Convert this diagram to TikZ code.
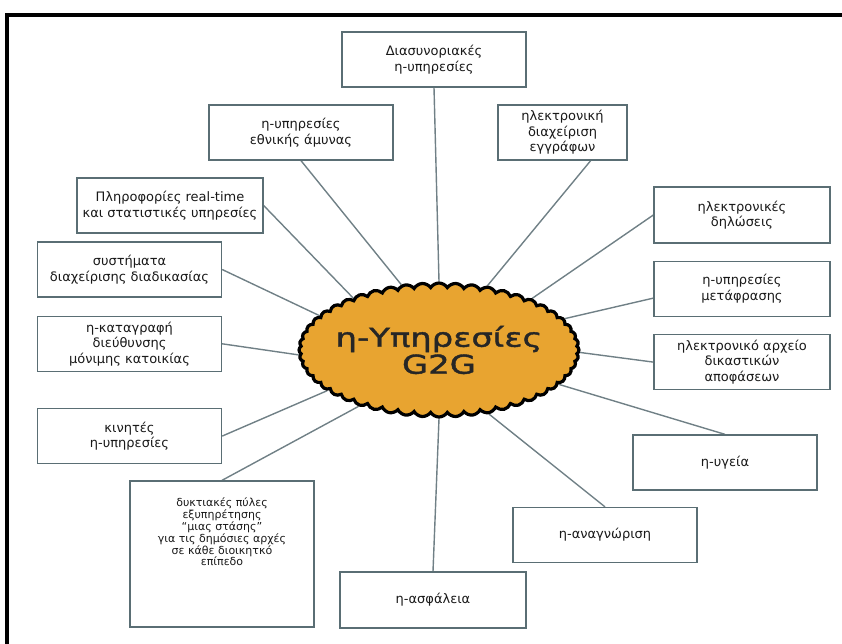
\documentclass[tikz,border=0pt]{standalone}
\usepackage{fontspec}
\setmainfont{DejaVu Sans}
\newfontfamily\hubfont[FakeStretch=1.3,FakeBold=1.6]{DejaVu Sans}
\usepackage{tikz}
\usetikzlibrary{shapes,positioning,backgrounds,calc}

\definecolor{hubfill}{RGB}{232,164,48}
\definecolor{boxline}{RGB}{90,110,116}
\definecolor{spoke}{RGB}{112,128,134}

\newlength\Boxwd
\setlength\Boxwd{176pt}
\newcommand\Boxtext[2]{%
  \parbox[c][#1][t]{\Boxwd}{\centering#2}}

\tikzset{service/.style={
    draw=boxline,
    rectangle,
    line width=1.3pt,
    fill=white,
    minimum width=184pt,
    minimum height=55pt,
    inner sep=2pt,
    align=center,
    % font=\ttfamily, % too narrow
    font=\fontsize{13}{15.5}\selectfont,
    text=black!90,
  },
  spokeline/.style={draw=spoke, line width=1.4pt}
}

\begin{document}
\begin{tikzpicture}[x=1pt,y=-1pt]
        \useasboundingbox (0,0) rectangle (842,644);

        % Frame
        \draw [line width=4pt] (7,644) -- (7,15) -- (842,15);

        % Hub
        \node (hub) [cloud, cloud puffs=52, cloud puff arc=115, cloud ignores aspect,
          draw=black, line width=3.2pt, fill=hubfill, inner xsep=-5pt, inner ysep=0pt,
          minimum width=262pt, minimum height=134pt,
          font=\hubfont\fontsize{26}{27}\selectfont, text=black!85, align=center] at (439,350) {η-Υπηρεσίες\\G2G};

        % Services
        \node (crossborder) [service] at (434,59.5) {Διασυνοριακές\\η-υπηρεσίες};
        \node (defence) [service] at (301,132.5) {η-υπηρεσίες\\εθνικής άμυνας};
        \node (documents) [service, minimum width=129pt] at (562.5,132.5) {ηλεκτρονική\\διαχείριση\\εγγράφων};
        \node (realtime) [service, minimum width=186pt] at (170,205.5) {Πληροφορίες real-time\\και στατιστικές υπηρεσίες};
        \node (process) [service] at (129.5,269.5) {συστήματα\\διαχείρισης διαδικασίας};
        \node (address) [service, below=18pt of process] {η-καταγραφή\\διεύθυνσης\\μόνιμης κατοικίας};
        \node (mobile) [service, below=36pt of address] {κινητές\\η-υπηρεσίες};
        \node (portals) [service, minimum height=146pt, font=\fontsize{11}{11.8}\selectfont] at (222,554) {
          \Boxtext{136pt}{\vspace*{12pt}δυκτιακές πύλες\\εξυπηρέτησης\\``μιας στάσης''\\για τις δημόσιες αρχές\\σε κάθε διοικητκό\\επίπεδο}};
        \node (security) [service, minimum width=186pt, minimum height=56pt] at (433,600) {η-ασφάλεια};
        \node (identity) [service] at (605,535) {η-αναγνώριση};
        \node (health) [service] at (725,462.5) {η-υγεία};
        \node (declarations) [service, minimum width=176pt, minimum height=56pt] at (742,215) {ηλεκτρονικές\\δηλώσεις};
        \node (translation) [service, minimum width=176pt, below=17pt of declarations] {η-υπηρεσίες\\μετάφρασης};
        \node (rulings) [service, minimum width=176pt, below=17pt of translation] {ηλεκτρονικό αρχείο\\δικαστικών\\αποφάσεων};

        % Spokes under the cloud
        \begin{pgfonlayer}{background}
          \draw [spokeline] (crossborder.south) -- (hub.90);
          \draw [spokeline] (defence.south) -- (hub.120);
          \draw [spokeline] (documents.-45) -- (hub.53);
          \draw [spokeline] (realtime.east) -- (hub.149);
          \draw [spokeline] (process.east) -- (hub.164);
          \draw [spokeline] (address.east) -- (hub.182);
          \draw [spokeline] (mobile.east) -- (hub.200);
          \draw [spokeline] (portals.north) -- (hub.215);
          \draw [spokeline] (security.north) -- (hub.270);
          \draw [spokeline] (identity.north) -- (hub.308);
          \draw [spokeline] (health.north) -- (hub.344);
          \draw [spokeline] (declarations.west) -- (hub.29);
          \draw [spokeline] (translation.186) -- (hub.14);
          \draw [spokeline] (rulings.west) -- (hub.359);
        \end{pgfonlayer}

\end{tikzpicture}
\end{document}
